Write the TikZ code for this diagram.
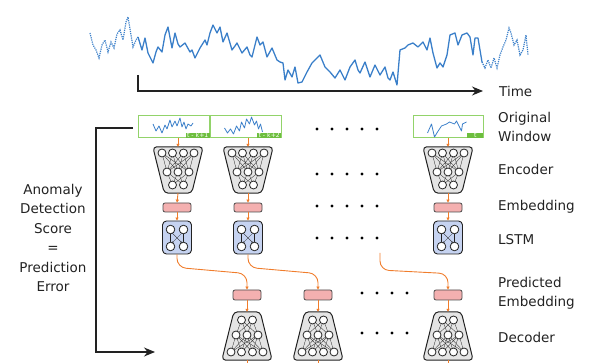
\documentclass[tikz,border=0pt]{standalone}
\usepackage{fontspec}
\setmainfont{DejaVu Sans}
\usetikzlibrary{arrows.meta,calc}
\definecolor{wavecol}{HTML}{3A7FC9}
\definecolor{wingreen}{HTML}{92D36A}
\definecolor{labgreen}{HTML}{6DBE3E}
\definecolor{orangeln}{HTML}{F07D2C}
\definecolor{netfill}{HTML}{E4E4E4}
\definecolor{embfill}{HTML}{F4B0B0}
\definecolor{lstmfill}{HTML}{C6D3F1}
\definecolor{txtcol}{HTML}{222222}
\tikzset{
 wave/.style={wavecol, line width=1.3pt, line join=round},
 wavedot/.style={wavecol, line width=1.2pt, densely dotted},
 miniwave/.style={wavecol, line width=0.8pt, line join=round},
 winbox/.style={draw=wingreen, line width=1pt, minimum width=71pt, minimum height=22pt, inner sep=0pt},
 tlabel/.style={fill=labgreen, text=white, font=\fontsize{6.2}{6.5}\selectfont, inner xsep=1.4pt, inner ysep=0.5pt, anchor=south east},
 encbox/.style={minimum width=50pt, minimum height=46pt, inner sep=0pt},
 decbox/.style={minimum width=50pt, minimum height=48pt, inner sep=0pt},
 netbody/.style={draw=txtcol, fill=netfill, line width=1pt, rounded corners=4pt},
 neuron/.style={draw=txtcol, fill=white, line width=0.8pt},
 synapse/.style={txtcol, line width=0.3pt},
 embbox/.style={draw=black!70, fill=embfill, rounded corners=2pt, minimum width=28pt, minimum height=9pt, inner sep=0pt, line width=0.8pt},
 lstmbox/.style={draw=txtcol, fill=lstmfill, rounded corners=4pt, minimum width=29pt, minimum height=33pt, inner sep=0pt, line width=0.9pt},
 lstmlink/.style={txtcol, line width=0.35pt, -{Latex[length=1.6pt,width=1.3pt]}},
 flow/.style={orangeln, line width=0.9pt, -{Triangle[length=3pt,width=3pt]}},
 flowcurve/.style={orangeln, line width=0.9pt, rounded corners=9pt, -{Triangle[length=3pt,width=3pt]}},
 flowend/.style={orangeln, line width=0.9pt},
 axisarrow/.style={txtcol, line width=1.1pt, -{Stealth[length=11pt,width=9pt]}},
 rowlabel/.style={text=txtcol, font=\fontsize{13.5}{19}\selectfont, anchor=west, align=left, inner sep=0pt},
 dotmark/.style={fill=black},
}
\newcommand{\encnet}[3]{%
 \node[encbox] (#1) at (#2,#3) {};
 \draw[netbody] (#1.north west) -- (#1.north east) -- ([xshift=-11.5pt]#1.south east) -- ([xshift=11.5pt]#1.south west) -- cycle;
 \begin{scope}[shift={(#1.center)}]
  \foreach \a in {-16,-5.5,5.5,16}{\foreach \b in {-11,0,11}{\draw[synapse] (\a,-17) -- (\b,2);}}
  \foreach \a in {-11,0,11}{\foreach \b in {-5.5,5.5}{\draw[synapse] (\a,2) -- (\b,15);}}
  \foreach \a in {-16,-5.5,5.5,16}{\draw[neuron] (\a,-17) circle (4pt);}
  \foreach \a in {-11,0,11}{\draw[neuron] (\a,2) circle (4pt);}
  \foreach \a in {-5.5,5.5}{\draw[neuron] (\a,15) circle (4pt);}
 \end{scope}}
\newcommand{\decnet}[3]{%
 \node[decbox] (#1) at (#2,#3) {};
 \draw[netbody] ([xshift=12pt]#1.north west) -- ([xshift=-12pt]#1.north east) -- (#1.south east) -- (#1.south west) -- cycle;
 \begin{scope}[shift={(#1.center)}]
  \foreach \a in {-5.5,5.5}{\foreach \b in {-11,0,11}{\draw[synapse] (\a,-16) -- (\b,-1);}}
  \foreach \a in {-11,0,11}{\foreach \b in {-16,-5.5,5.5,16}{\draw[synapse] (\a,-1) -- (\b,16);}}
  \foreach \a in {-5.5,5.5}{\draw[neuron] (\a,-16) circle (4pt);}
  \foreach \a in {-11,0,11}{\draw[neuron] (\a,-1) circle (4pt);}
  \foreach \a in {-16,-5.5,5.5,16}{\draw[neuron] (\a,16) circle (4pt);}
 \end{scope}}
\newcommand{\lstmcell}[3]{%
 \node[lstmbox] (#1) at (#2,#3) {};
 \begin{scope}[shift={(#1.center)}]
  \draw[lstmlink] (-6.5,-4) -- (-6.5,5);
  \draw[lstmlink] (6.5,-4) -- (6.5,5);
  \draw[lstmlink] (-5,-4.5) -- (5,5.5);
  \draw[lstmlink] (5,-4.5) -- (-5,5.5);
  \foreach \a in {-6.5,6.5}{\draw[neuron] (\a,-8) circle (4.3pt); \draw[neuron] (\a,9) circle (4.3pt);}
 \end{scope}}
\begin{document}
\begin{tikzpicture}[x=1pt,y=-1pt]
\useasboundingbox (0,0) rectangle (595,363);
% big time series
\draw[wavedot] plot coordinates {(90,33) (93,45) (96,50) (99,58) (102,45) (105,40) (108,52) (111,42) (114,48) (117,34) (120,30) (123,40) (126,22) (128,17) (131,35) (133,47) (136,40) (138,37)};
\draw[wave] plot coordinates {(138,37) (142,50) (145,38) (148,53) (150,57) (153,63) (156,52) (158,47) (162,52) (165,35) (168,27) (172,48) (175,33) (178,44) (180,47) (185,43) (190,52) (192,50) (195,58) (200,48) (205,40) (207,45) (210,33) (213,25) (217,33) (220,27) (223,42) (227,33) (232,50) (235,46) (237,43) (242,53) (247,47) (250,55) (252,57) (257,37) (260,45) (263,42) (267,57) (272,48) (277,60) (280,62) (283,63) (285,80) (288,70) (292,77) (295,67) (298,83) (302,82) (307,72) (312,63) (317,58) (320,55) (325,67) (330,72) (335,78) (340,70) (345,80) (350,67) (355,60) (358,70) (360,73) (365,62) (370,77) (375,65) (380,75) (385,67) (388,78) (390,80) (393,72) (397,85) (400,50) (405,48) (408,45) (413,43) (418,47) (423,42) (427,50) (430,38) (433,53) (437,68) (440,63) (443,67) (447,55) (450,35) (455,33) (458,45) (462,35) (467,33) (470,37) (473,55) (475,38) (478,38) (482,62)};
\draw[wavedot] plot coordinates {(482,62) (485,68) (488,60) (491,68) (494,58) (497,68) (500,55) (503,47) (506,40) (509,28) (511,33) (514,45) (517,40) (520,55) (523,50) (526,35) (528,55)};
% time axis
\coordinate (tstart) at (138,75);
\coordinate (tend) at (483,91);
\draw[axisarrow] (tstart) |- (tend);
\node[rowlabel] (timelab) at (499,91) {Time};
% windows
\node[winbox] (win1) at (174,127) {};
\node[winbox] (win2) at (245.5,127) {};
\node[winbox, minimum width=70pt] (win3) at (448,127) {};
\begin{scope}[shift={(win1.west)}]
\draw[miniwave] plot coordinates {(15,-3) (18,4) (21,-1) (24,6) (27,-2) (29,2) (32,-7) (34,0) (37,-6) (39,-1) (42,-9) (44,0) (46,-5) (48,2) (50,-3) (53,-1) (55,-4)};
\end{scope}
\begin{scope}[shift={(win2.west)}]
\draw[miniwave] plot coordinates {(15,1) (18,6) (21,2) (24,7) (27,-1) (30,4) (32,-5) (35,1) (37,-8) (40,-3) (42,-10) (45,-2) (47,-6) (49,2) (51,-3) (53,5)};
\end{scope}
\begin{scope}[shift={(win3.west)}]
\draw[miniwave] plot coordinates {(15,6) (19,-3) (22,10) (25,5) (29,-1) (34,-3) (37,-5) (42,-3) (44,-6) (47,0) (49,4) (50,-3) (54,-5)};
\end{scope}
\node[tlabel] (lab1) at (win1.south east) {t - k+1};
\node[tlabel] (lab2) at (win2.south east) {t - k+2};
\node[tlabel, minimum width=16pt] (lab3) at (win3.south east) {t};
% encoders, embeddings, LSTMs
\encnet{enc1}{178}{170}
\encnet{enc2}{248}{170}
\encnet{enc3}{448}{170}
\node[embbox] (emb1) at (177,207.5) {};
\node[embbox] (emb2) at (248,207.5) {};
\node[embbox] (emb3) at (448,207.5) {};
\lstmcell{lstm1}{177}{237.5}
\lstmcell{lstm2}{248}{237.5}
\lstmcell{lstm3}{448}{237.5}
\foreach \i in {1,2,3}{
 \draw[flow] (enc\i.north |- win\i.south) -- (enc\i.north);
 \draw[flow] (enc\i.south) -- (emb\i.north);
 \draw[flow] (emb\i.south) -- (lstm\i.north);
}
% predicted embeddings and decoders
\node[embbox, minimum height=10pt] (pemb1) at (247,295) {};
\node[embbox, minimum height=10pt] (pemb2) at (318,295) {};
\node[embbox, minimum height=10pt] (pemb3) at (448,295) {};
\decnet{dec1}{247}{336}
\decnet{dec2}{318}{336}
\decnet{dec3}{448}{336}
\coordinate (lstmdots) at (380,253);
\draw[flowcurve] (lstm1.south) -- ($(lstm1.south)+(0,13)$) -- ($(pemb1.north)+(0,-16)$) -- (pemb1.north);
\draw[flowcurve] (lstm2.south) -- ($(lstm2.south)+(0,13)$) -- ($(pemb2.north)+(0,-16)$) -- (pemb2.north);
\draw[flowcurve] (lstmdots) -- ($(lstmdots)+(0,17)$) -- ($(pemb3.north)+(0,-16)$) -- (pemb3.north);
\foreach \i in {1,2,3}{
 \draw[flow] (pemb\i.south) -- (dec\i.north);
 \coordinate (dout\i) at (dec\i.south |- 0,363);
 \draw[flowend] (dec\i.south) -- (dout\i);
}
% dots
\foreach \y in {129,174,206,238}{\foreach \x in {317,332,347,362,377}{\fill[dotmark] (\x,\y) circle (1.7pt);}}
\foreach \y in {293,333}{\foreach \x in {362,377,392,407}{\fill[dotmark] (\x,\y) circle (1.7pt);}}
% error bracket
\coordinate (errend) at (155,352);
\draw[axisarrow] ($(win1.west)+(-5,1)$) -| ($(errend)+(-59,0)$) -- (errend);
\node[text=txtcol, font=\fontsize{13.5}{19.4}\selectfont, align=center, inner sep=0pt] (score) at (53,238) {Anomaly\\Detection\\Score\\=\\Prediction\\Error};
% row labels
\node[rowlabel] (lorig) at (498,126.5) {Original\\Window};
\node[rowlabel] (lenc) at (498,169) {Encoder};
\node[rowlabel] (lemb) at (498,207) {Embedding};
\node[rowlabel] (llstm) at (498,240) {LSTM};
\node[rowlabel] (lpemb) at (498,293) {Predicted\\Embedding};
\node[rowlabel] (ldec) at (498,337) {Decoder};
\end{tikzpicture}
\end{document}
